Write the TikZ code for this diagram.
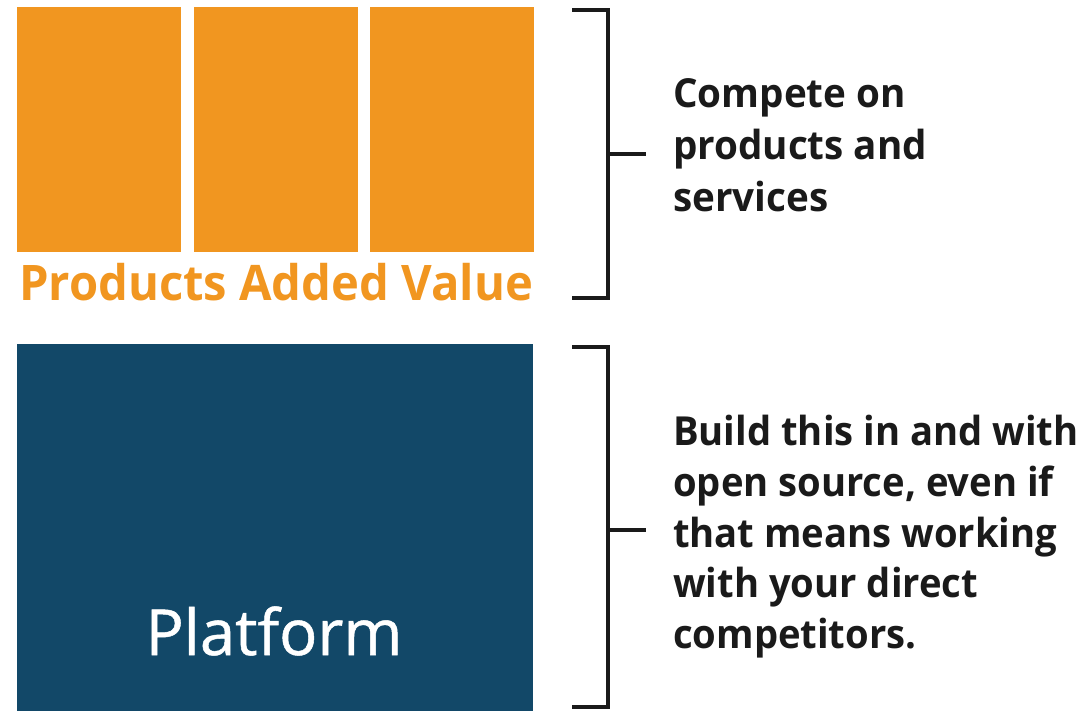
\documentclass[tikz,border=0pt]{standalone}
\usepackage{fontspec}
\usepackage{graphicx}
\setmainfont{Open Sans}
\newfontfamily\platfont[FakeBold=0.8]{Open Sans}
\definecolor{pavorange}{RGB}{241,150,32}
\definecolor{platblue}{RGB}{18,72,104}
\definecolor{txtdark}{RGB}{26,26,26}
\newcommand{\tightx}[1]{\scalebox{0.965}[1]{#1}}
\newcommand{\tighty}[1]{\scalebox{0.955}[1]{#1}}
\begin{document}
\begin{tikzpicture}[x=1pt,y=-1pt,
  obox/.style={fill=pavorange,draw=none,inner sep=0pt,minimum width=164pt,minimum height=245pt,anchor=north west},
  bbox/.style={fill=platblue,draw=none,inner sep=0pt,minimum width=516pt,minimum height=367pt,anchor=north west},
  brk/.style={draw=txtdark,line width=4pt},
  rtxt/.style={anchor=base west,inner sep=0pt,text=txtdark,font=\fontsize{40}{52}\selectfont\bfseries}
]
\useasboundingbox (0,0) rectangle (1081,711);
\node[obox] (p1) at (17,7) {};
\node[obox] (p2) at (194,7) {};
\node[obox] (p3) at (370,7) {};
\node[anchor=base,inner sep=0pt,text=pavorange,font=\fontsize{49}{55}\selectfont\bfseries] (pav) at (276,300) {\scalebox{0.962}[1]{Products Added Value}};
\node[bbox] (plat) at (17,344) {};
\node[anchor=base,inner sep=0pt,text=white,font=\platfont\fontsize{63.5}{70}\selectfont] (platl) at (274,655) {Platform};
% brackets
\coordinate (b1t) at (572,10);
\coordinate (b1b) at (572,298);
\coordinate (b1m) at (608,154);
\coordinate (b1e) at (646,154);
\draw[brk] (b1t) -| (608,298) -- (b1b);
\draw[brk] (b1m) -- (b1e);
\coordinate (b2t) at (572,347);
\coordinate (b2b) at (572,707);
\coordinate (b2m) at (608,530);
\coordinate (b2e) at (646,530);
\draw[brk] (b2t) -| (608,707) -- (b2b);
\draw[brk] (b2m) -- (b2e);
% texts
\node[rtxt] (c1) at (673,108) {\tightx{Compete on}};
\node[rtxt] (c2) at (673,160) {\tightx{products and}};
\node[rtxt] (c3) at (673,212) {\tightx{services}};
\node[rtxt] (d1) at (673,445) {\tighty{Build this in and with}};
\node[rtxt] (d2) at (673,496) {\tighty{open source, even if}};
\node[rtxt] (d3) at (673,547) {\tighty{that means working}};
\node[rtxt] (d4) at (673,597) {\tighty{with your direct}};
\node[rtxt] (d5) at (673,648) {\tighty{competitors.}};
\end{tikzpicture}
\end{document}
